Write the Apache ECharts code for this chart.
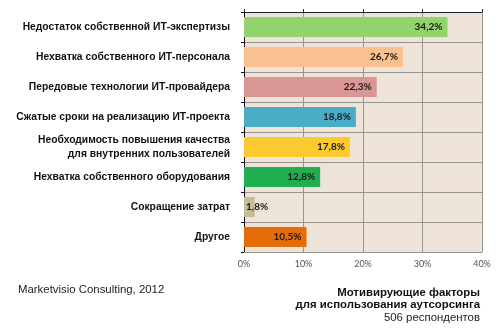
<!DOCTYPE html>
<html><head><meta charset="utf-8">
<script src="https://cdn.jsdelivr.net/npm/echarts@6/dist/echarts.min.js"></script>
<style>html,body{margin:0;padding:0;background:#fff}#c{width:500px;height:333px}</style>
</head><body><div id="c"></div>
<script>
const categories = [
  "Недостаток собственной ИТ-экспертизы",
  "Нехватка собственного ИТ-персонала",
  "Передовые технологии ИТ-провайдера",
  "Сжатые сроки на реализацию ИТ-проекта",
  "Необходимость повышения качества\nдля внутренних пользователей",
  "Нехватка собственного оборудования",
  "Сокращение затрат",
  "Другое"
];
const values = [34.2, 26.7, 22.3, 18.8, 17.8, 12.8, 1.8, 10.5];
const barColors = ["#92d36e", "#fac090", "#d99694", "#4bacc6", "#fcc92e", "#1fae50", "#c4bd97", "#e46c0a"];
const xTicks = [0, 10, 20, 30, 40];
const sourceText = "Marketvisio Consulting, 2012";
const titleLines = ["Мотивирующие факторы", "для использования аутсорсинга"];
const subtitle = "506 респондентов";

const chart = echarts.init(document.getElementById('c'));
const fmt = v => v.toFixed(1).replace('.', ',') + '%';
const data = values.map((v, i) => ({
  value: v,
  itemStyle: { color: barColors[i] },
  label: v < 5 ? { position: 'insideLeft', distance: 2 } : {}
}));
chart.setOption({
  animation: false,
  backgroundColor: '#ffffff',
  grid: { left: 244, right: 18, top: 12, bottom: 81, show: true, backgroundColor: '#ede3d8', borderWidth: 0 },
  xAxis: [{
    type: 'value', min: xTicks[0], max: xTicks[xTicks.length - 1], interval: 10, position: 'bottom',
    axisLine: { show: true, lineStyle: { color: '#9a948e', width: 1 } },
    axisTick: { show: false },
    splitLine: { show: true, lineStyle: { color: '#9a948e', width: 1 } },
    axisLabel: { formatter: v => v + '%', color: '#555', fontSize: 9, fontFamily: 'Lato', margin: 8 }
  }, {
    type: 'value', min: xTicks[0], max: xTicks[xTicks.length - 1], interval: 10, position: 'top',
    axisLine: { show: true, lineStyle: { color: '#222', width: 1 } },
    axisTick: { show: true, length: 3, inside: false, lineStyle: { color: '#222' } },
    splitLine: { show: false }, axisLabel: { show: false }
  }],
  yAxis: {
    type: 'category', data: categories, inverse: true,
    axisLine: { show: true, lineStyle: { color: '#111', width: 1 } },
    axisTick: { show: true, length: 3, lineStyle: { color: '#111' } },
    splitLine: { show: true, lineStyle: { color: '#9a948e', width: 1 } },
    axisLabel: { color: '#111', fontSize: 10.3, fontWeight: 'bold', fontFamily: 'Liberation Sans', margin: 14, align: 'right', lineHeight: 14 }
  },
  series: [{
    type: 'bar', data: data, barWidth: 20, xAxisIndex: 0,
    label: { show: true, position: 'insideRight', distance: 5, formatter: p => fmt(p.value),
      color: '#1a1a1a', fontSize: 10, fontWeight: 'bold', fontFamily: 'Lato' }
  }],
  graphic: [
    { type: 'text', left: 18, top: 284, style: { text: sourceText, font: '11.4px "Liberation Sans"', fill: '#222' } },
    { type: 'text', right: 20, top: 287, style: { text: titleLines[0], font: 'bold 11.4px "Liberation Sans"', fill: '#111', align: 'right' } },
    { type: 'text', right: 20, top: 299.5, style: { text: titleLines[1], font: 'bold 11.4px "Liberation Sans"', fill: '#111', align: 'right' } },
    { type: 'text', right: 20, top: 312, style: { text: subtitle, font: '11.4px "Liberation Sans"', fill: '#222', align: 'right' } }
  ]
});
</script></body></html>
